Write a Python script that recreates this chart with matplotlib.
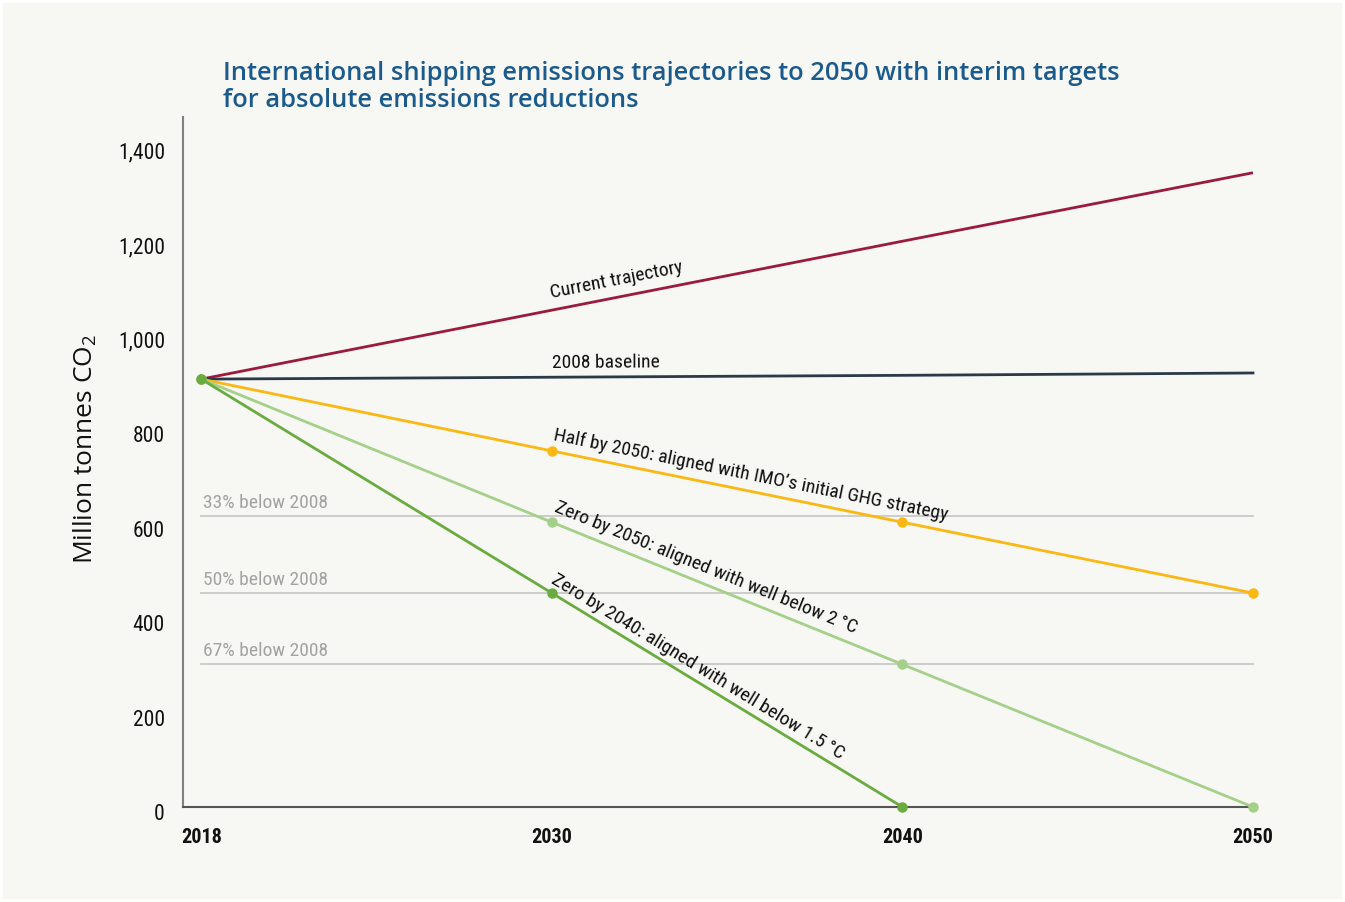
import numpy as np
import matplotlib
matplotlib.use("Agg")
import matplotlib.pyplot as plt
import matplotlib.font_manager as fm
from matplotlib.transforms import ScaledTranslation
from matplotlib.patches import Rectangle

# ---------------- data ----------------
years = ["2018", "2030", "2040", "2050"]
current_trajectory = [906, 1052, 1198, 1343]
baseline_2008 = [906, 910, 914, 919]
half_by_2050 = [906, 754, 603, 453]
zero_by_2050 = [906, 603, 302, 0]
zero_by_2040 = [906, 453, 0, np.nan]
ref_levels = [616, 453, 302]
ref_labels = ["33% below 2008", "50% below 2008", "67% below 2008"]
yticks = [0, 200, 400, 600, 800, 1000, 1200, 1400]
ytick_labels = ["0", "200", "400", "600", "800", "1,000", "1,200", "1,400"]

title = ("International shipping emissions trajectories to 2050 with interim targets\n"
         "for absolute emissions reductions")

# ---------------- fonts ----------------
names = {f.name for f in fm.fontManager.ttflist}
cond = None
for n in ["Roboto Condensed", "Liberation Sans Narrow", "Open Sans Condensed", "Noto Sans Condensed"]:
    if n in names:
        cond = n
        break
if cond is None:
    cond_kw = dict(family="DejaVu Sans", fontstretch="condensed")
else:
    cond_kw = dict(family=cond)

title_font = "Open Sans" if "Open Sans" in names else "DejaVu Sans"
plt.rcParams["mathtext.fontset"] = "custom"
plt.rcParams["mathtext.rm"] = title_font
plt.rcParams["mathtext.default"] = "regular"

BG = "#f7f7f3"
C_CUR = "#9b1b3c"
C_BASE = "#2b3a48"
C_HALF = "#fbb813"
C_Z50 = "#a4d08a"
C_Z40 = "#6aab3f"
C_REF = "#c9c9c9"
C_REFTXT = "#a3a3a3"

fig = plt.figure(figsize=(13.45, 9.02), dpi=100, facecolor=BG)
fig.patches.append(Rectangle((0, 0), 1, 1, transform=fig.transFigure, fill=False,
                             edgecolor="white", linewidth=4, zorder=10))

ax = fig.add_axes([183 / 1345, 1 - 807 / 902, (1253 - 183) / 1345, (807 - 117) / 902])
ax.set_facecolor(BG)
x = np.arange(len(years))
ax.set_xlim(-0.052, 3.0)
ax.set_ylim(0, 1461)

for s in ["top", "right"]:
    ax.spines[s].set_visible(False)
ax.spines["left"].set_color("#808080")
ax.spines["left"].set_linewidth(1.5)
ax.spines["bottom"].set_color("#555555")
ax.spines["bottom"].set_linewidth(1.5)
ax.spines["bottom"].set_bounds(-0.052, 2.985)

# reference lines
for lvl, lab in zip(ref_levels, ref_labels):
    ax.plot([0, 3], [lvl, lvl], color=C_REF, lw=1.3, zorder=1, clip_on=False)
    ax.annotate(lab, xy=(0, lvl), xytext=(1, 3), textcoords="offset points",
                ha="left", va="bottom", color=C_REFTXT, fontsize=14, **cond_kw)

lw = 2.0
ax.plot(x, current_trajectory, color=C_CUR, lw=lw, zorder=3, clip_on=False,
        solid_capstyle="butt")
ax.plot(x, baseline_2008, color=C_BASE, lw=lw, zorder=3, clip_on=False)
ax.plot(x, half_by_2050, color=C_HALF, lw=lw, marker="o", ms=6.5, zorder=4, clip_on=False)
ax.plot(x, zero_by_2050, color=C_Z50, lw=lw, marker="o", ms=6.5, zorder=5, clip_on=False)
ax.plot(x, zero_by_2040, color=C_Z40, lw=lw, marker="o", ms=6.5, zorder=6, clip_on=False)


def line_label(text, xs, ys, i, off):
    p = ax.transData.transform([(xs[i], ys[i]), (xs[i + 1], ys[i + 1])])
    ang = np.degrees(np.arctan2(p[1, 1] - p[0, 1], p[1, 0] - p[0, 0]))
    ax.annotate(text, xy=(xs[i], ys[i]), xytext=off, textcoords="offset points",
                ha="left", va="bottom", rotation=ang, rotation_mode="anchor",
                fontsize=14, fontstyle="normal", color="#111111", **cond_kw)


line_label("Current trajectory", x, current_trajectory, 1, (0, 6))
line_label("2008 baseline", x, baseline_2008, 1, (0, 4))
line_label("Half by 2050: aligned with IMO\u2019s initial GHG strategy", x, half_by_2050, 1, (0, 5))
line_label("Zero by 2050: aligned with well below 2\u2009\u00b0C", x, zero_by_2050, 1, (0, 5))
line_label("Zero by 2040: aligned with well below 1.5\u2009\u00b0C", x, zero_by_2040, 1, (-3, 5))

ax.set_xticks(x)
ax.set_xticklabels(years, fontsize=14.5, fontweight="bold", **cond_kw)
ax.set_yticks(yticks)
ax.set_yticklabels(ytick_labels, fontsize=15.5, **cond_kw)
ax.tick_params(axis="both", length=0, colors="#111111")
ax.tick_params(axis="y", pad=13)
ax.tick_params(axis="x", pad=15)
for lab in ax.get_yticklabels():
    lab.set_transform(lab.get_transform() + ScaledTranslation(0, -5 / 100, fig.dpi_scale_trans))

fig.text(85 / 1345, 1 - 449 / 902, "Million tonnes CO$_2$", rotation=90, ha="center",
         va="center", fontsize=19, family=title_font, color="#111111")

fig.text(223 / 1345, 1 - 61 / 902, title, ha="left", va="top", fontsize=18.4,
         family=title_font, fontweight="semibold", color="#1b5a8c", linespacing=1.12)

fig.savefig("out.png", dpi=100, facecolor=BG)
